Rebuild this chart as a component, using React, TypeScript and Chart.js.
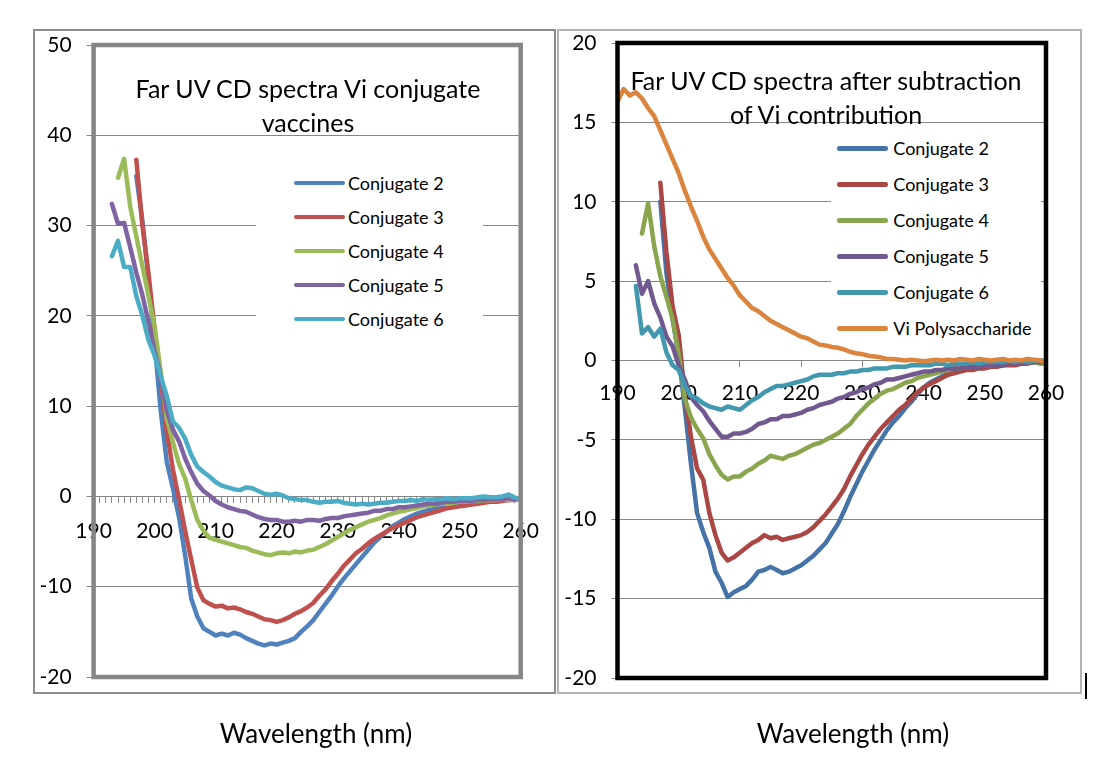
import { useEffect, useRef } from "react";
import {
  Chart,
  LineController,
  LineElement,
  PointElement,
  LinearScale,
  type Plugin,
} from "chart.js";

Chart.register(LineController, LineElement, PointElement, LinearScale);

const FONT = "Lato, 'Noto Sans', sans-serif";
Chart.defaults.font.family = FONT;

// wavelength grid, nm
const wavelength = [
  190, 191, 192, 193, 194, 195, 196, 197, 198, 199,
  200, 201, 202, 203, 204, 205, 206, 207, 208, 209,
  210, 211, 212, 213, 214, 215, 216, 217, 218, 219,
  220, 221, 222, 223, 224, 225, 226, 227, 228, 229,
  230, 231, 232, 233, 234, 235, 236, 237, 238, 239,
  240, 241, 242, 243, 244, 245, 246, 247, 248, 249,
  250, 251, 252, 253, 254, 255, 256, 257, 258, 259,
  260,
];

const conjugateNames = ["Conjugate 2", "Conjugate 3", "Conjugate 4", "Conjugate 5", "Conjugate 6"];
const rightNames = [...conjugateNames, "Vi Polysaccharide"];

// left panel: Far UV CD spectra of the conjugates
const leftConj2 = [
  null, null, null, null, null, null, null, 35.5, 30.5, 24.0,
  17.0, 9.5, 3.8, 0.9, -2.3, -6.5, -11.3, -13.3, -14.6, -15.0,
  -15.4, -15.2, -15.4, -15.1, -15.3, -15.7, -16.0, -16.3, -16.5, -16.3,
  -16.4, -16.2, -16.0, -15.7, -15.0, -14.4, -13.7, -12.8, -11.9, -11.0,
  -10.0, -9.1, -8.3, -7.5, -6.7, -5.9, -5.1, -4.5, -3.9, -3.3,
  -2.9, -2.5, -2.2, -1.9, -1.7, -1.5, -1.3, -1.2, -1.1, -0.9,
  -0.8, -0.7, -0.6, -0.6, -0.5, -0.4, -0.4, -0.3, -0.3, -0.2,
  -0.3,
];
const leftConj3 = [
  null, null, null, null, null, null, null, 37.3, 30.0, 24.7,
  18.5, 13.2, 7.2, 3.0, -0.3, -3.8, -7.0, -10.1, -11.5, -11.9,
  -12.2, -12.1, -12.4, -12.3, -12.5, -12.8, -13.0, -13.3, -13.6, -13.7,
  -13.9, -13.7, -13.4, -13.0, -12.7, -12.3, -11.8, -11.0, -10.3, -9.4,
  -8.6, -7.7, -7.0, -6.3, -5.8, -5.2, -4.7, -4.3, -3.9, -3.5,
  -3.2, -2.9, -2.6, -2.3, -2.1, -1.9, -1.7, -1.5, -1.3, -1.2,
  -1.1, -1.0, -0.9, -0.8, -0.7, -0.6, -0.6, -0.5, -0.4, -0.4,
  -0.3,
];
const leftConj4 = [
  null, null, null, null, 35.3, 37.4, 32.1, 28.8, 25.5, 22.2,
  18.8, 13.8, 8.6, 6.0, 3.6, 2.0, -0.4, -2.6, -3.8, -4.6,
  -4.8, -5.0, -5.2, -5.4, -5.6, -5.7, -6.0, -6.2, -6.4, -6.5,
  -6.3, -6.2, -6.3, -6.1, -6.2, -6.0, -5.9, -5.6, -5.3, -4.9,
  -4.5, -4.1, -3.7, -3.4, -3.1, -2.8, -2.6, -2.4, -2.1, -1.9,
  -1.7, -1.6, -1.4, -1.3, -1.1, -1.0, -0.9, -0.8, -0.8, -0.7,
  -0.6, -0.6, -0.5, -0.5, -0.4, -0.4, -0.4, -0.3, -0.4, -0.3,
  -0.3,
];
const leftConj5 = [
  null, null, null, 32.4, 30.2, 30.3, 27.6, 24.8, 22.3, 19.3,
  16.1, 13.3, 9.5, 7.4, 6.1, 4.2, 2.7, 1.4, 0.6, 0.1,
  -0.5, -0.9, -1.2, -1.4, -1.6, -1.7, -2.0, -2.3, -2.5, -2.6,
  -2.6, -2.8, -2.8, -2.7, -2.8, -2.6, -2.6, -2.7, -2.5, -2.4,
  -2.4, -2.2, -2.1, -2.0, -1.9, -1.8, -1.6, -1.6, -1.4, -1.4,
  -1.2, -1.2, -1.1, -1.0, -0.9, -0.8, -0.8, -0.7, -0.6, -0.6,
  -0.5, -0.5, -0.5, -0.4, -0.4, -0.3, -0.3, -0.3, -0.2, -0.3,
  -0.2,
];
const leftConj6 = [
  null, null, null, 26.6, 28.3, 25.4, 25.4, 22.2, 20.0, 17.3,
  15.6, 13.3, 11.1, 8.3, 7.6, 6.4, 4.6, 3.3, 2.7, 2.2,
  1.6, 1.2, 1.0, 0.8, 0.7, 1.0, 0.9, 0.6, 0.3, 0.2,
  0.3, 0.1, -0.2, -0.3, -0.4, -0.4, -0.6, -0.7, -0.6, -0.6,
  -0.5, -0.7, -0.8, -0.9, -0.8, -0.9, -0.8, -0.7, -0.7, -0.6,
  -0.5, -0.5, -0.4, -0.5, -0.3, -0.4, -0.3, -0.3, -0.2, -0.3,
  -0.2, -0.2, -0.2, -0.1, 0.0, -0.1, -0.1, 0.0, 0.2, -0.1,
  -0.3,
];

// right panel: after subtraction of the Vi contribution
const rightConj2 = [
  null, null, null, null, null, null, null, 10.0, 5.5, 2.6,
  0.3, -3.0, -6.5, -9.6, -10.8, -11.8, -13.3, -14.0, -14.9, -14.6,
  -14.4, -14.2, -13.8, -13.3, -13.2, -13.0, -13.2, -13.4, -13.3, -13.1,
  -12.9, -12.6, -12.3, -11.9, -11.5, -10.9, -10.3, -9.5, -8.6, -7.8,
  -7.0, -6.3, -5.6, -5.0, -4.4, -3.9, -3.5, -3.0, -2.6, -2.1,
  -1.7, -1.4, -1.2, -1.0, -0.8, -0.7, -0.6, -0.5, -0.5, -0.4,
  -0.4, -0.3, -0.3, -0.3, -0.2, -0.2, -0.2, -0.1, -0.1, -0.1,
  -0.1,
];
const rightConj3 = [
  null, null, null, null, null, null, null, 11.2, 6.8, 3.4,
  1.6, -2.2, -4.8, -6.8, -7.5, -9.6, -11.0, -12.1, -12.6, -12.4,
  -12.1, -11.8, -11.5, -11.3, -11.0, -11.2, -11.1, -11.3, -11.2, -11.1,
  -11.0, -10.8, -10.5, -10.1, -9.7, -9.2, -8.7, -8.1, -7.3, -6.6,
  -5.9, -5.3, -4.8, -4.3, -3.9, -3.5, -3.1, -2.8, -2.4, -2.0,
  -1.7, -1.5, -1.3, -1.1, -0.9, -0.8, -0.7, -0.6, -0.6, -0.5,
  -0.5, -0.4, -0.4, -0.3, -0.3, -0.3, -0.2, -0.2, -0.1, -0.1,
  -0.1,
];
const rightConj4 = [
  null, null, null, null, 8.0, 9.9, 7.2, 5.3, 4.0, 2.6,
  0.4, -2.4, -3.6, -4.3, -4.9, -5.9, -6.6, -7.2, -7.5, -7.3,
  -7.3, -7.0, -6.8, -6.5, -6.3, -6.0, -6.1, -6.2, -6.0, -5.9,
  -5.7, -5.5, -5.3, -5.2, -5.0, -4.8, -4.6, -4.3, -4.0, -3.5,
  -3.1, -2.7, -2.4, -2.1, -1.9, -1.8, -1.6, -1.4, -1.3, -1.1,
  -1.0, -0.9, -0.8, -0.7, -0.6, -0.5, -0.5, -0.4, -0.4, -0.3,
  -0.3, -0.3, -0.2, -0.2, -0.2, -0.2, -0.1, -0.1, -0.1, -0.2,
  -0.2,
];
const rightConj5 = [
  null, null, null, 6.0, 4.2, 5.0, 3.6, 2.7, 1.5, 0.9,
  -0.3, -1.2, -2.3, -2.8, -3.2, -3.8, -4.3, -4.8, -4.8, -4.6,
  -4.6, -4.5, -4.3, -4.0, -3.9, -3.7, -3.7, -3.5, -3.5, -3.4,
  -3.3, -3.1, -3.0, -2.8, -2.7, -2.6, -2.4, -2.3, -2.1, -2.0,
  -1.8, -1.7, -1.5, -1.4, -1.2, -1.2, -1.1, -1.0, -0.9, -0.8,
  -0.7, -0.7, -0.6, -0.6, -0.5, -0.5, -0.5, -0.4, -0.4, -0.4,
  -0.3, -0.3, -0.3, -0.3, -0.2, -0.2, -0.2, -0.1, -0.1, -0.1,
  -0.1,
];
const rightConj6 = [
  null, null, null, 4.7, 1.7, 2.1, 1.5, 2.0, 0.5, -0.3,
  -0.6, -1.6, -2.2, -2.4, -2.7, -2.9, -3.0, -3.1, -2.9, -3.0,
  -3.1, -2.8, -2.5, -2.3, -2.0, -1.8, -1.6, -1.6, -1.5, -1.4,
  -1.3, -1.2, -1.0, -0.9, -0.9, -0.9, -0.8, -0.8, -0.7, -0.7,
  -0.6, -0.6, -0.5, -0.5, -0.5, -0.4, -0.4, -0.4, -0.3, -0.3,
  -0.3, -0.3, -0.2, -0.2, -0.3, -0.2, -0.2, -0.2, -0.1, -0.2,
  -0.1, -0.1, -0.1, -0.1, 0.0, -0.1, 0.0, -0.1, 0.0, 0.0,
  0.0,
];
const rightVi = [
  16.3, 17.1, 16.7, 16.9, 16.5, 15.9, 15.4, 14.5, 13.6, 12.7,
  11.8, 10.7, 9.7, 8.8, 7.8, 7.0, 6.4, 5.8, 5.2, 4.7,
  4.1, 3.7, 3.3, 3.1, 2.8, 2.5, 2.3, 2.1, 1.9, 1.7,
  1.5, 1.4, 1.2, 1.0, 0.95, 0.85, 0.8, 0.7, 0.55, 0.45,
  0.4, 0.3, 0.25, 0.2, 0.1, 0.1, 0.05, 0.0, 0.05, 0.0,
  -0.05, 0.0, 0.05, 0.0, 0.05, 0.0, 0.1, 0.05, 0.0, 0.1,
  0.05, 0.0, 0.05, 0.1, 0.0, 0.05, 0.0, 0.1, 0.05, 0.0,
  -0.1,
];

const leftSeries = [leftConj2, leftConj3, leftConj4, leftConj5, leftConj6];
const rightSeries = [rightConj2, rightConj3, rightConj4, rightConj5, rightConj6, rightVi];

const leftColors = ["#4F81BD", "#C0504D", "#9BBB59", "#8064A2", "#4BACC6"];
const rightColors = ["#4572A7", "#AA4643", "#89A54E", "#71588F", "#4198AF", "#DB843D"];

const GRID = "#868686";

interface PanelProps {
  left: number;
  width: number;
  height: number;
  series: (number | null)[][];
  names: string[];
  colors: string[];
  yMin: number;
  yMax: number;
  yStep: number;
  xStep: number;
  axisWidth: number;
  pad: { right: number; top: number; bottom: number };
  yTickLen: number;
  yLabelPad: number;
  xLabelPad: number;
  frameColor: string;
}

function framePlugin(color: string): Plugin<"line"> {
  return {
    id: "plotFrame",
    afterDatasetsDraw(chart) {
      const { ctx, chartArea } = chart;
      ctx.save();
      ctx.strokeStyle = color;
      ctx.lineWidth = 4.5;
      ctx.strokeRect(chartArea.left, chartArea.top, chartArea.right - chartArea.left, chartArea.bottom - chartArea.top);
      ctx.restore();
    },
  };
}

function SpectraPanel(p: PanelProps) {
  const canvasRef = useRef<HTMLCanvasElement>(null);

  useEffect(() => {
    if (!canvasRef.current) return;
    const n = p.series.length;
    const chart = new Chart(canvasRef.current, {
      type: "line",
      data: {
        datasets: p.series.map((vals, i) => ({
          label: p.names[i],
          data: wavelength.map((x, j) => ({ x, y: vals[j] })),
          borderColor: p.colors[i],
          backgroundColor: p.colors[i],
          borderWidth: 4.5,
          pointRadius: 0,
          tension: 0,
          borderJoinStyle: "round" as const,
          borderCapStyle: "round" as const,
          order: n - i,
        })),
      },
      options: {
        animation: false,
        responsive: false,
        events: [],
        layout: { padding: { left: 0, right: p.pad.right, top: p.pad.top, bottom: p.pad.bottom } },
        plugins: { legend: { display: false }, tooltip: { enabled: false } },
        scales: {
          x: {
            type: "linear",
            min: 190,
            max: 260,
            position: { y: 0 },
            ticks: {
              stepSize: p.xStep,
              autoSkip: false,
              maxRotation: 0,
              minRotation: 0,
              padding: p.xLabelPad,
              color: "#000",
              font: { size: 21 },
              callback: (v) => (Number(v) % 10 === 0 ? String(v) : ""),
            },
            grid: { drawOnChartArea: false, drawTicks: true, tickLength: 6, color: GRID },
            border: { display: true, color: GRID, width: 1 },
          },
          y: {
            type: "linear",
            min: p.yMin,
            max: p.yMax,
            afterFit: (scale) => {
              scale.width = p.axisWidth;
            },
            ticks: {
              stepSize: p.yStep,
              padding: p.yLabelPad,
              color: "#000",
              font: { size: 21 },
              callback: (v) => String(v),
            },
            grid: { color: GRID, lineWidth: 1, tickLength: p.yTickLen },
            border: { display: false },
          },
        },
      },
      plugins: [framePlugin(p.frameColor)],
    });
    return () => chart.destroy();
  }, [p]);

  return (
    <canvas
      ref={canvasRef}
      width={p.width}
      height={p.height}
      style={{ position: "absolute", left: p.left, top: 0, width: p.width, height: p.height }}
    />
  );
}

const leftProps: PanelProps = {
  left: 0,
  width: 556,
  height: 759,
  series: leftSeries,
  names: conjugateNames,
  colors: leftColors,
  yMin: -20,
  yMax: 50,
  yStep: 10,
  xStep: 1,
  axisWidth: 93.6,
  pad: { right: 35.3, top: 45, bottom: 82 },
  yTickLen: 7,
  yLabelPad: 15,
  xLabelPad: 16,
  frameColor: "#868686",
};

const rightProps: PanelProps = {
  left: 556,
  width: 558,
  height: 759,
  series: rightSeries,
  names: rightNames,
  colors: rightColors,
  yMin: -20,
  yMax: 20,
  yStep: 5,
  xStep: 10,
  axisWidth: 61.5,
  pad: { right: 68, top: 43, bottom: 81 },
  yTickLen: 6,
  yLabelPad: 15,
  xLabelPad: 14,
  frameColor: "#000000",
};

function Legend({ names, colors, left, top, width, height, rowTop, rowGap, sampleLeft, textLeft }: {
  names: string[];
  colors: string[];
  left: number;
  top: number;
  width: number;
  height: number;
  rowTop: number;
  rowGap: number;
  sampleLeft: number;
  textLeft: number;
}) {
  return (
    <div style={{ position: "absolute", left, top, width, height, background: "#fff" }}>
      {names.map((name, i) => (
        <div key={name}>
          <div
            style={{
              position: "absolute",
              left: sampleLeft - left,
              top: rowTop + i * rowGap - top - 2.25,
              width: 51,
              height: 4.5,
              borderRadius: 2.25,
              background: colors[i],
            }}
          />
          <div
            style={{
              position: "absolute",
              left: textLeft - left,
              top: rowTop + i * rowGap - top - 12,
              height: 24,
              lineHeight: "24px",
              fontSize: 18,
              whiteSpace: "nowrap",
            }}
          >
            {name}
          </div>
        </div>
      ))}
    </div>
  );
}

export default function App() {
  const text = { position: "absolute" as const, textAlign: "center" as const, whiteSpace: "nowrap" as const, color: "#000" };
  return (
    <div
      style={{
        position: "fixed",
        left: 0,
        top: 0,
        width: 1114,
        height: 759,
        background: "#fff",
        overflow: "hidden",
        fontFamily: FONT,
      }}
    >
      <div style={{ position: "absolute", left: 33, top: 29, width: 523, height: 665, boxSizing: "border-box", border: "2px solid #8c8c8c" }} />
      <div style={{ position: "absolute", left: 557, top: 29, width: 525, height: 665, boxSizing: "border-box", border: "2px solid #b4b4b4" }} />
      <SpectraPanel {...leftProps} />
      <SpectraPanel {...rightProps} />

      <Legend names={conjugateNames} colors={leftColors} left={256} top={158} width={227} height={180} rowTop={183} rowGap={34} sampleLeft={293.6} textLeft={348} />
      <Legend names={rightNames} colors={rightColors} left={831} top={128} width={210} height={214} rowTop={148.3} rowGap={36} sampleLeft={837.3} textLeft={893.3} />

      <div style={{ ...text, left: 58, width: 500, top: 71, lineHeight: "34px", fontSize: 25 }}>
        Far UV CD spectra Vi conjugate
        <br />
        vaccines
      </div>
      <div style={{ ...text, left: 576, width: 500, top: 63, lineHeight: "34px", fontSize: 25 }}>
        Far UV CD spectra after subtraction
        <br />
        of Vi contribution
      </div>

      <div style={{ ...text, left: 166, width: 300, top: 718, lineHeight: "30px", fontSize: 26 }}>Wavelength (nm)</div>
      <div style={{ ...text, left: 703, width: 300, top: 718, lineHeight: "30px", fontSize: 26 }}>Wavelength (nm)</div>

      <div style={{ position: "absolute", left: 1085, top: 673, width: 2, height: 26, background: "#000" }} />
    </div>
  );
}
